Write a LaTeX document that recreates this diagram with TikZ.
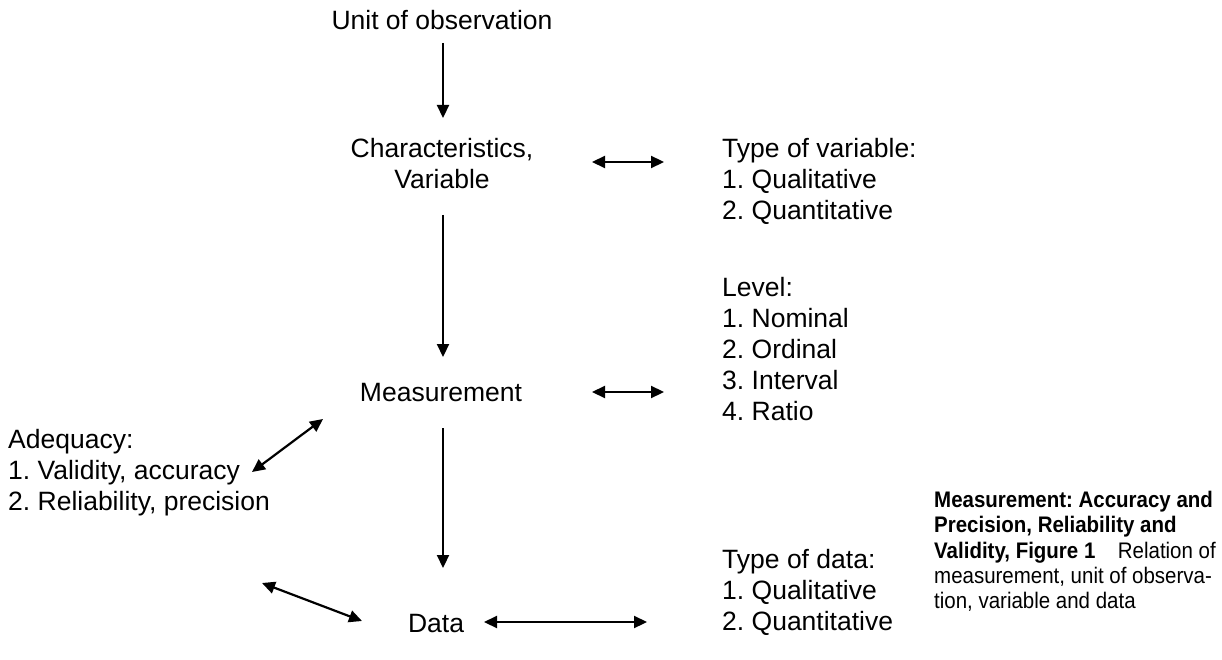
\documentclass[tikz,border=0pt]{standalone}
\usepackage{fontspec}
\setmainfont{Liberation Sans}
\newfontfamily\capfont[FakeStretch=0.91]{Liberation Sans}
\usetikzlibrary{arrows.meta}
\frenchspacing
\begin{document}
\begin{tikzpicture}[x=1pt,y=-1pt,
  main/.style={font=\fontsize{26.5}{31}\selectfont, inner sep=0pt, align=left},
  ctr/.style={font=\fontsize{26.5}{31}\selectfont, inner sep=0pt, align=center},
  arr/.style={line width=2.2pt, -{Triangle[length=13pt,width=12pt]}},
  dbl/.style={line width=2.2pt, {Triangle[length=13pt,width=12pt]}-{Triangle[length=13pt,width=12pt]}},
  captext/.style={font=\capfont\fontsize{22.5}{25.3}\selectfont, inner sep=0pt, align=left, anchor=north west}]
\useasboundingbox (0,0) rectangle (1222,660);
\node[ctr] (unit) at (442,20) {Unit of observation};
\node[ctr] (charvar) at (442,164) {Characteristics,\\Variable};
\node[ctr] (meas) at (441,393) {Measurement};
\node[ctr] (data) at (436,624) {Data};
\node[main, anchor=west] (typevar) at (722,181) {Type of variable:\\1. Qualitative\\2. Quantitative};
\node[main, anchor=west] (level) at (722,349) {Level:\\1. Nominal\\2. Ordinal\\3. Interval\\4. Ratio};
\node[main, anchor=west] (adeq) at (8,473) {Adequacy:\\1. Validity, accuracy\\2. Reliability, precision};
\node[main, anchor=west] (typedata) at (722,592) {Type of data:\\1. Qualitative\\2. Quantitative};
\node[captext] (caption) at (934,491) {\textbf{Measurement: Accuracy and}\\\textbf{Precision, Reliability and}\\\textbf{Validity, Figure 1}\quad Relation of\\measurement, unit of observa-\\tion, variable and data};

\draw[arr] ([xshift=1pt,yshift=-23pt]unit.center) -- ([xshift=1pt,yshift=46pt]charvar.center);
\draw[arr] ([xshift=1pt,yshift=-51pt]charvar.center) -- ([xshift=2pt,yshift=36pt]meas.center);
\draw[arr] ([xshift=2pt,yshift=-35pt]meas.center) -- ([xshift=7pt,yshift=56pt]data.center);
\draw[dbl] ([xshift=150pt,yshift=2pt]charvar.center) -- ([xshift=-58pt,yshift=19pt]typevar.west);
\draw[dbl] ([xshift=151pt,yshift=1pt]meas.center) -- ([xshift=-58pt,yshift=-43pt]level.west);
\draw[dbl] ([xshift=48pt,yshift=2pt]data.center) -- ([xshift=-75pt,yshift=-30pt]typedata.west);
\draw[dbl] ([xshift=-118pt,yshift=-26pt]meas.center) -- ([xshift=244pt,yshift=1pt]adeq.west);
\draw[dbl] ([xshift=-74pt,yshift=3pt]data.center) -- ([xshift=254pt,yshift=-110pt]adeq.west);
\end{tikzpicture}
\end{document}
